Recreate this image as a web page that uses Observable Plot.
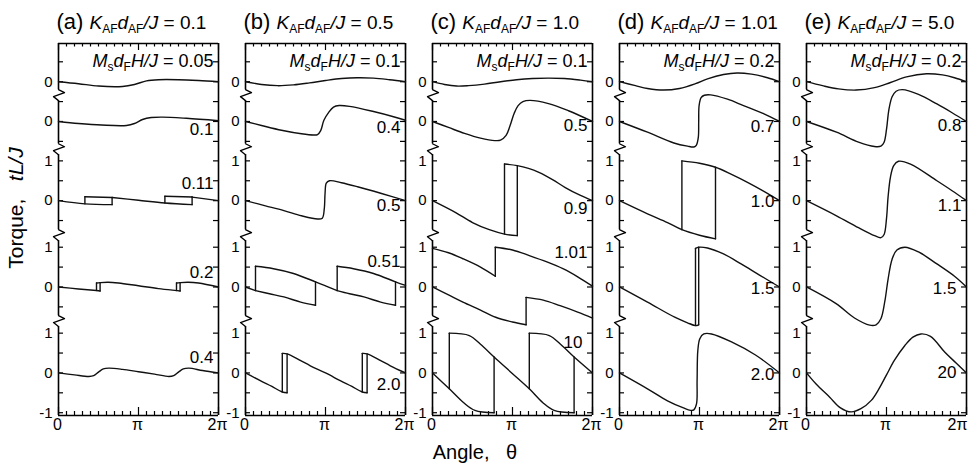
<!DOCTYPE html>
<html><head><meta charset="utf-8">
<script src="https://cdn.jsdelivr.net/npm/d3@7"></script>
<script src="https://cdn.jsdelivr.net/npm/@observablehq/plot@0.6"></script>
<style>
body{margin:0;background:#fff;}
#chart svg{display:block;overflow:visible;}
</style></head><body><div id="chart"></div>
<script>
// ---------- data ----------
const panels = ["a", "b", "c", "d", "e"];
const kafValues = ["0.1", "0.5", "1.0", "1.01", "5.0"];
const headerH = ["0.05", "0.1", "0.1", "0.2", "0.2"];
const traceLabels = [
  ["0.1", "0.11", "0.2", "0.4"],
  ["0.4", "0.5", "0.51", "2.0"],
  ["0.5", "0.9", "1.01", "10"],
  ["0.7", "1.0", "1.5", "2.0"],
  ["0.8", "1.1", "1.5", "20"]
];
// label anchor (torque value relative to its trace zero) for traces 2..5
const labelAt = [
  [-0.35, 0.3, 0.22, 0.26],
  [-0.28, -0.25, 0.49, -0.44],
  [-0.23, -0.33, 0.74, 0.62],
  [-0.27, -0.17, -0.17, -0.19],
  [-0.23, -0.25, -0.17, -0.14]
];
const traceOffsets = [7.32, 6.32, 4.33, 2.16, 0];
const axisBreaks = [6.97, 5.61, 3.45, 1.29];
const traceTicks = [[0, 0.5], [-0.5, 0, 0.5], [-0.5, 0, 0.5, 1], [-0.5, 0, 0.5, 1], [-1, -0.5, 0, 0.5, 1]];
const traceTickLabels = [[0], [0], [0, 1], [0, 1], [-1, 0, 1]];
const xTicks = [0, 1, 2];
const xTickLabels = ["0", "π", "2π"];

// curves: angle in units of π, torque tL/J ; each trace = list of segments [x0,v0,x1,v1,...]
const curvesA = [
  [[0,0, 0.25,-0.05, 0.5,-0.11, 0.8,-0.12, 0.95,-0.07, 1.1,0.02, 1.25,0.05, 1.5,0.05, 1.75,0.03, 2,0]],
  [[0,0, 0.25,-0.05, 0.54,-0.09, 0.85,-0.1, 0.95,-0.05, 1.05,0.05, 1.16,0.1, 1.3,0.11, 1.6,0.08, 2,0.02]],
  [[0,0, 0.33,-0.08, 0.67,-0.1], [0.33,-0.08, 0.33,0.1], [0.33,0.1, 0.67,0.08], [0.67,-0.1, 0.67,0.08],
   [0.67,0.08, 1.0,0.01, 1.33,-0.06, 1.67,-0.1], [1.33,-0.06, 1.33,0.11], [1.33,0.11, 1.67,0.09],
   [1.67,-0.1, 1.67,0.09], [1.67,0.09, 2,0]],
  [[0,0, 0.25,-0.05, 0.475,-0.09, 0.52,-0.1], [0.475,-0.09, 0.475,0.1],
   [0.475,0.1, 0.52,0.11, 0.62,0.12, 0.75,0.1, 1.0,0.03, 1.25,-0.04, 1.475,-0.09, 1.52,-0.1],
   [0.52,-0.1, 0.52,0.11], [1.475,-0.09, 1.475,0.1],
   [1.475,0.1, 1.52,0.11, 1.62,0.12, 1.75,0.1, 2,0], [1.52,-0.1, 1.52,0.11]],
  [[0,0, 0.2,-0.05, 0.38,-0.09, 0.44,-0.07, 0.5,0.02, 0.56,0.1, 0.63,0.12, 0.8,0.09, 1.0,0.03, 1.2,-0.03,
    1.38,-0.09, 1.44,-0.07, 1.5,0.02, 1.56,0.1, 1.63,0.12, 1.8,0.06, 2,0]]
];
const curvesB = [
  [[0,0, 0.2,-0.07, 0.4,-0.1, 0.6,-0.08, 0.8,-0.03, 1.0,0.03, 1.2,0.08, 1.4,0.1, 1.6,0.09, 1.8,0.05, 2,0]],
  [[0,0, 0.2,-0.1, 0.45,-0.22, 0.7,-0.31, 0.85,-0.34, 0.9,-0.33, 0.94,-0.23, 0.98,0.03, 1.04,0.23, 1.1,0.36,
    1.17,0.4, 1.3,0.38, 1.6,0.25, 1.85,0.12, 2,0.03]],
  [[0,0, 0.25,-0.13, 0.48,-0.25, 0.7,-0.38, 0.9,-0.46, 0.96,-0.44, 0.985,-0.2, 0.995,0.2, 1.01,0.44,
    1.05,0.5, 1.2,0.45, 1.4,0.35, 1.7,0.18, 2,0]],
  [[0,0, 0.125,-0.09], [0.125,-0.09, 0.3,-0.17, 0.48,-0.25, 0.69,-0.38, 0.875,-0.46], [0.125,-0.09, 0.125,0.52],
   [0.125,0.52, 0.35,0.46, 0.6,0.34, 0.875,0.13, 1.0,0.03, 1.146,-0.09], [0.875,-0.46, 0.875,0.13],
   [1.146,-0.09, 1.3,-0.17, 1.48,-0.25, 1.69,-0.38, 1.875,-0.46], [1.146,-0.09, 1.146,0.52],
   [1.146,0.52, 1.35,0.46, 1.6,0.34, 1.875,0.13, 2,0.04], [1.875,-0.46, 1.875,0.13]],
  [[0,0, 0.19,-0.2, 0.33,-0.34, 0.46,-0.48, 0.52,-0.5], [0.46,-0.48, 0.46,0.49],
   [0.46,0.49, 0.52,0.48, 0.69,0.31, 0.81,0.18, 1.0,0, 1.19,-0.2, 1.33,-0.34, 1.46,-0.48, 1.52,-0.5],
   [0.52,-0.5, 0.52,0.48], [1.46,-0.48, 1.46,0.49],
   [1.46,0.49, 1.52,0.48, 1.69,0.31, 1.81,0.18, 2,0], [1.52,-0.5, 1.52,0.48]]
];
const curvesC = [
  [[0,0, 0.15,-0.07, 0.3,-0.11, 0.45,-0.1, 0.65,-0.06, 0.85,0, 1.05,0.05, 1.25,0.08, 1.45,0.09, 1.65,0.08, 1.85,0.04, 2,0]],
  [[0,0, 0.2,-0.15, 0.4,-0.3, 0.6,-0.42, 0.78,-0.48, 0.85,-0.47, 0.92,-0.35, 0.97,-0.1, 1.02,0.2, 1.07,0.4,
    1.13,0.5, 1.22,0.53, 1.45,0.45, 1.7,0.27, 2,0]],
  [[0,0, 0.29,-0.3, 0.5,-0.55, 0.71,-0.73, 0.9,-0.84, 1.06,-0.88], [0.9,-0.84, 0.9,0.92],
   [0.9,0.92, 1.06,0.88, 1.2,0.81, 1.33,0.71, 1.5,0.53, 1.66,0.33, 1.85,0.13, 2,0], [1.06,-0.88, 1.06,0.88]],
  [[0,0.97, 0.2,0.86, 0.38,0.71, 0.6,0.5, 0.785,0.27], [0.785,0.27, 0.785,1.0],
   [0.785,1.0, 1.0,0.93, 1.21,0.79, 1.43,0.63, 1.63,0.46, 1.82,0.25, 2,0.02],
   [0,0, 0.2,-0.2, 0.38,-0.38, 0.6,-0.58, 0.79,-0.76, 1.0,-0.88, 1.17,-0.95], [1.17,-0.95, 1.17,-0.26],
   [1.17,-0.26, 1.385,-0.33, 1.595,-0.47, 1.815,-0.63, 2,-0.78]],
  [[0,0, 0.21,-0.4, 0.39,-0.75, 0.53,-0.94, 0.77,-1.0], [0.21,-0.4, 0.21,1.0],
   [0.21,1.0, 0.46,0.94, 0.6,0.72, 0.77,0.4, 0.99,0, 1.21,-0.4, 1.38,-0.75, 1.52,-0.94, 1.77,-1.0],
   [0.77,-1.0, 0.77,0.4], [1.21,-0.4, 1.21,1.0],
   [1.21,1.0, 1.46,0.94, 1.6,0.72, 1.77,0.4, 2,0], [1.77,-1.0, 1.77,0.4]]
];
const curvesD = [
  [[0,0, 0.2,-0.1, 0.35,-0.17, 0.55,-0.21, 0.75,-0.17, 0.95,-0.05, 1.1,0.07, 1.3,0.18, 1.47,0.22, 1.65,0.19, 1.85,0.1, 2,0]],
  [[0,0, 0.35,-0.27, 0.68,-0.54, 0.85,-0.62, 0.93,-0.64, 0.96,-0.6, 0.985,-0.4, 0.99,0.0, 0.995,0.4,
    1.02,0.6, 1.06,0.66, 1.14,0.67, 1.35,0.56, 1.55,0.4, 1.8,0.2, 2,0]],
  [[0,0, 0.35,-0.33, 0.6,-0.55, 0.78,-0.73, 1.0,-0.87, 1.2,-0.96], [0.78,-0.73, 0.78,1.0],
   [0.78,1.0, 1.0,0.94, 1.2,0.84, 1.4,0.66, 1.6,0.46, 1.8,0.24, 2,0], [1.2,-0.96, 1.2,0.84]],
  [[0,0, 0.35,-0.38, 0.69,-0.76, 0.85,-0.9, 0.95,-0.97, 0.99,-0.95], [0.95,-0.97, 0.95,0.97],
   [0.95,0.97, 0.99,1.0, 1.1,0.98, 1.3,0.83, 1.52,0.58, 1.75,0.3, 2,0], [0.99,-0.95, 0.99,1.0]],
  [[0,0, 0.35,-0.4, 0.6,-0.7, 0.8,-0.88, 0.8875,-0.94, 0.929,-0.93, 0.9625,-0.78, 0.97,-0.19, 0.979,0.56,
    1.004,0.86, 1.054,0.98, 1.15,0.98, 1.4,0.78, 1.7,0.45, 2,0]]
];
const curvesE = [
  [[0,0, 0.2,-0.1, 0.4,-0.18, 0.62,-0.21, 0.85,-0.15, 1.05,-0.02, 1.25,0.12, 1.5,0.2, 1.7,0.17, 1.85,0.1, 2,0]],
  [[0,0, 0.375,-0.27, 0.65,-0.52, 0.85,-0.63, 0.93,-0.62, 0.97,-0.52, 1.0,-0.2, 1.03,0.3, 1.07,0.62,
    1.12,0.76, 1.2,0.8, 1.4,0.68, 1.63,0.44, 1.82,0.22, 2,0]],
  [[0,0, 0.375,-0.38, 0.65,-0.68, 0.85,-0.88, 0.93,-0.93, 0.97,-0.85, 1.0,-0.45, 1.02,0.1, 1.05,0.6,
    1.09,0.88, 1.15,0.99, 1.3,0.92, 1.63,0.5, 1.82,0.25, 2,0]],
  [[0,0, 0.37,-0.42, 0.6,-0.78, 0.79,-0.96, 0.87,-0.95, 0.93,-0.8, 0.98,-0.35, 1.02,0.2, 1.07,0.7,
    1.13,0.93, 1.23,1.0, 1.4,0.88, 1.63,0.58, 1.85,0.27, 2,0]],
  [[0,0, 0.12,-0.28, 0.29,-0.61, 0.42,-0.87, 0.56,-0.98, 0.68,-0.9, 0.81,-0.69, 0.9,-0.42, 1.0,-0.05,
    1.1,0.32, 1.23,0.69, 1.33,0.9, 1.43,0.98, 1.55,0.92, 1.73,0.52, 1.87,0.25, 2,0]]
];

// ---------- build tables ----------
const allCurves = [curvesA, curvesB, curvesC, curvesD, curvesE];
const yTop = 8.28, yBot = -1.07;
const pxX = 1 / 80, pxY = 1 / 39.8;   // one pixel in data units
const rows = [];
let sid = 0;
allCurves.forEach((panel, pi) => panel.forEach((trace, ti) => trace.forEach(seg => {
  sid++;
  for (let i = 0; i < seg.length; i += 2)
    rows.push({p: panels[pi], s: sid, x: seg[i], y: seg[i + 1] + traceOffsets[ti]});
})));

const leftTicks = [], tickLabelRows = [], curveLabelRows = [];
panels.forEach((p, pi) => {
  traceTicks.forEach((tt, ti) => tt.forEach(v => leftTicks.push({p, y: v + traceOffsets[ti]})));
  traceTickLabels.forEach((tt, ti) => tt.forEach(v => tickLabelRows.push({p, y: v + traceOffsets[ti], t: String(v)})));
  traceLabels[pi].forEach((t, k) => curveLabelRows.push({p, t, y: labelAt[pi][k] + traceOffsets[k + 1],
    wide: (t === "10" || t === "20" || (pi === 4 && k === 2))}));
});
const xMinor = d3.range(0, 21).map(i => i / 10);
const bottomTicks = [], xLabelRows = [];
panels.forEach((p, pi) => {
  xMinor.forEach(x => bottomTicks.push({p, x, major: xTicks.includes(Math.round(x * 10) / 10)}));
  xTicks.forEach((x, i) => xLabelRows.push({p, x, t: xTickLabels[i], last: pi === panels.length - 1 && i === xTicks.length - 1}));
});
// left axis pieces between breaks
const gapUp = 6 * pxY, gapDn = 5 * pxY;
const leftSegs = [], zig = [];
panels.forEach(p => {
  const b = [yTop, ...axisBreaks, yBot];
  for (let i = 0; i < b.length - 1; i++) {
    const hi = i === 0 ? b[i] : b[i] - gapDn;
    const lo = i === b.length - 2 ? b[i + 1] : b[i + 1] + gapUp;
    leftSegs.push({p, y1: lo, y2: hi});
  }
  axisBreaks.forEach((br, k) => {
    const shape = [[0, 6], [6, 3], [-5, -1], [0, -5]];
    shape.forEach(([dx, dy]) => zig.push({p, z: p + k, x: dx * pxX, y: br + dy * pxY}));
  });
});

const FONT = "'Liberation Sans', Arial, Helvetica, sans-serif";
const plot = Plot.plot({
  width: 969, height: 466,
  marginLeft: 57, marginRight: 2, marginTop: 43, marginBottom: 51,
  style: {fontFamily: FONT, fontSize: "15px", color: "black", background: "white"},
  fx: {domain: panels, paddingInner: 0.147, paddingOuter: 0, axis: null},
  x: {domain: [0, 2], axis: null},
  y: {domain: [yBot, yTop], axis: null},
  marks: [
    // frame
    Plot.ruleY(panels, {fx: d => d, y: yTop, x1: 0, x2: 2, strokeWidth: 1.6}),
    Plot.ruleY(panels, {fx: d => d, y: yBot, x1: 0, x2: 2, strokeWidth: 1.6}),
    Plot.ruleX(panels, {fx: d => d, x: 2, y1: yBot, y2: yTop, strokeWidth: 1.6}),
    Plot.ruleX(leftSegs, {fx: "p", x: 0, y1: "y1", y2: "y2", strokeWidth: 1.6}),
    Plot.line(zig, {fx: "p", x: "x", y: "y", z: "z", strokeWidth: 1.3}),
    // y ticks (inward, both sides)
    Plot.ruleY(leftTicks, {fx: "p", y: "y", x1: 0, x2: 5 * pxX, strokeWidth: 1.2}),
    Plot.ruleY(leftTicks, {fx: "p", y: "y", x1: 2 - 5 * pxX, x2: 2, strokeWidth: 1.2}),
    // x ticks (inward, top and bottom)
    Plot.ruleX(bottomTicks, {fx: "p", x: "x", y1: yBot, y2: d => yBot + (d.major ? 8 : 4) * pxY, strokeWidth: 1.2}),
    Plot.ruleX(bottomTicks, {fx: "p", x: "x", y1: d => yTop - (d.major ? 7 : 3.5) * pxY, y2: yTop, strokeWidth: 1.2}),
    // curves
    Plot.line(rows, {fx: "p", x: "x", y: "y", z: "s", curve: "catmull-rom", stroke: "#111", strokeWidth: 1.4}),
    // tick labels
    Plot.text(tickLabelRows, {fx: "p", x: 0, y: "y", text: "t", textAnchor: "end", dx: -6, fontSize: 15}),
    Plot.text(xLabelRows, {fx: "p", x: "x", y: yBot, text: "t", lineAnchor: "top", dy: 3, dx: -1, fontSize: 16,
      filter: d => !d.last}),
    Plot.text(xLabelRows, {fx: "p", x: "x", y: yBot, text: "t", lineAnchor: "top", dy: 3, dx: 1, fontSize: 16,
      textAnchor: "end", filter: d => d.last}),
    // curve labels
    Plot.text(curveLabelRows, {fx: "p", x: 2, y: "y", text: "t", textAnchor: "end", lineAnchor: "bottom",
      dx: -5, fontSize: 17, filter: d => !d.wide}),
    Plot.text(curveLabelRows, {fx: "p", x: 2, y: "y", text: "t", textAnchor: "end", lineAnchor: "bottom",
      dx: -10, fontSize: 17, filter: d => d.wide}),
    // header and title placeholders (enriched below)
    Plot.text(panels, {fx: d => d, x: 2, y: yTop, dy: 23, dx: -5, text: (d, i) => "MsdFH/J = " + headerH[i],
      textAnchor: "end", lineAnchor: "bottom", fontSize: 18}),
    Plot.text(panels, {fx: d => d, x: 0, y: yTop, dy: -15, dx: -2, text: (d, i) => "(" + d + ") KAFdAF/J = " + kafValues[i],
      textAnchor: "start", lineAnchor: "bottom", fontSize: 19})
  ]
});
document.getElementById("chart").appendChild(plot);

// ---------- rich text (sub/italic) ----------
const svg = d3.select(plot.tagName.toLowerCase() === "svg" ? plot : plot.querySelector("svg"));
function rich(el, parts) {
  const sel = d3.select(el);
  sel.text(null);
  let down = false;
  parts.forEach(pt => {
    const ts = sel.append("tspan").text(pt.t);
    if (pt.i) ts.attr("font-style", "italic");
    if (pt.size) ts.attr("font-size", pt.size);
    if (pt.sub && !down) { ts.attr("dy", 4); down = true; }
    else if (!pt.sub && down) { ts.attr("dy", -4); down = false; }
  });
}
svg.selectAll("text").each(function () {
  const s = this.textContent;
  let m;
  if ((m = s.match(/^\((\w)\) KAFdAF\/J = (.*)$/))) {
    rich(this, [{t: "(" + m[1] + ") ", size: 22}, {t: "K", i: 1}, {t: "AF", sub: 1, size: 12},
      {t: "d", i: 1}, {t: "AF", sub: 1, size: 12}, {t: "/J", i: 1}, {t: " = " + m[2]}]);
  } else if ((m = s.match(/^MsdFH\/J = (.*)$/))) {
    rich(this, [{t: "M", i: 1}, {t: "s", sub: 1, size: 12}, {t: "d", i: 1}, {t: "F", sub: 1, size: 12},
      {t: "H/J", i: 1}, {t: " = " + m[1]}]);
  }
});
// axis titles
const yt = svg.append("text").attr("transform", "translate(23,208) rotate(-90)")
  .attr("text-anchor", "middle").attr("font-size", 21).attr("font-family", FONT).attr("fill", "black");
yt.append("tspan").text("Torque,\u00a0\u00a0\u00a0");
yt.append("tspan").attr("font-style", "italic").text("tL/J");
svg.append("text").attr("x", 475).attr("y", 459).attr("font-size", 20).attr("font-family", FONT)
  .attr("fill", "black").text("Angle,\u00a0\u00a0\u00a0θ");
</script>
</body></html>
